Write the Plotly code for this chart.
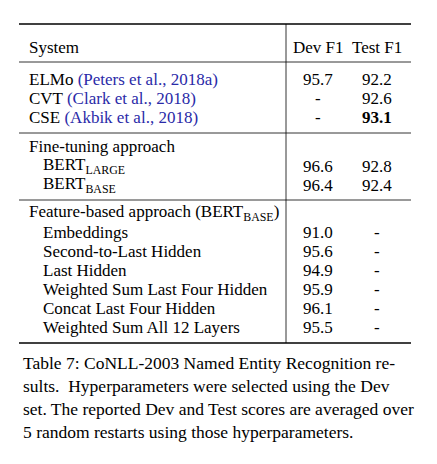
import plotly.graph_objects as go

header = ["System", "Dev F1", "Test F1"]
systems = ["ELMo <span style='color:#2a2aa8'>(Peters et al., 2018a)</span>",
           "CVT <span style='color:#2a2aa8'>(Clark et al., 2018)</span>",
           "CSE <span style='color:#2a2aa8'>(Akbik et al., 2018)</span>",
           "Fine-tuning approach",
           "BERT<sub>LARGE</sub>", "BERT<sub>BASE</sub>",
           "Feature-based approach (BERT<sub>BASE</sub>)",
           "Embeddings", "Second-to-Last Hidden", "Last Hidden",
           "Weighted Sum Last Four Hidden", "Concat Last Four Hidden",
           "Weighted Sum All 12 Layers"]
dev = ["95.7", "-", "-", "", "96.6", "96.4", "", "91.0", "95.6", "94.9", "95.9", "96.1", "95.5"]
test = ["92.2", "92.6", "<b>93.1</b>", "", "92.8", "92.4", "", "-", "-", "-", "-", "-", "-"]
indent = [0, 0, 0, 0, 1, 1, 0, 1, 1, 1, 1, 1, 1]
row_y = [79, 98, 117, 146, 166, 185, 213, 232, 251, 270, 289, 308, 327]
caption = ["Table 7: CoNLL-2003 Named Entity Recognition re-",
           "sults.  Hyperparameters were selected using the Dev",
           "set. The reported Dev and Test scores are averaged over",
           "5 random restarts using those hyperparameters."]
cap_y = [363, 386, 409, 432]

OFF = 8  # page body margin
F = dict(family="Liberation Serif", size=17, color="black")
FC = dict(family="Liberation Serif", size=17.5, color="black")
fig = go.Figure()
ann = []
def t(x, y, s, anchor="left", font=F):
    ann.append(dict(x=x - OFF, y=y - OFF, text=s, xref="x", yref="y", showarrow=False,
                    xanchor=anchor, yanchor="middle", font=font))
t(27, 47, header[0]); t(318, 47, header[1], "center"); t(377, 47, header[2], "center")
for s, d, te, ind, y in zip(systems, dev, test, indent, row_y):
    t(27 + 14 * ind, y, s)
    if d: t(318, y, d, "center")
    if te: t(377, y, te, "center")
for s, y in zip(caption, cap_y):
    t(21, y, s, font=FC)

shapes = []
for y, w in [(24, 1.5), (62, 0.8), (133, 0.8), (200, 0.8), (343, 1.5)]:
    shapes.append(dict(type="line", xref="x", yref="y", x0=19 - OFF, x1=411 - OFF,
                       y0=y - OFF, y1=y - OFF, line=dict(color="black", width=w)))
shapes.append(dict(type="line", xref="x", yref="y", x0=286 - OFF, x1=286 - OFF,
                   y0=24 - OFF, y1=343 - OFF, line=dict(color="black", width=0.8)))

fig.add_trace(go.Scatter(x=[], y=[]))
fig.update_layout(width=437, height=464, margin=dict(l=0, r=0, t=0, b=0),
                  paper_bgcolor="white", plot_bgcolor="white", showlegend=False,
                  annotations=ann, shapes=shapes,
                  xaxis=dict(range=[0, 437], visible=False, fixedrange=True),
                  yaxis=dict(range=[464, 0], visible=False, fixedrange=True))
fig.write_html("out.html")
